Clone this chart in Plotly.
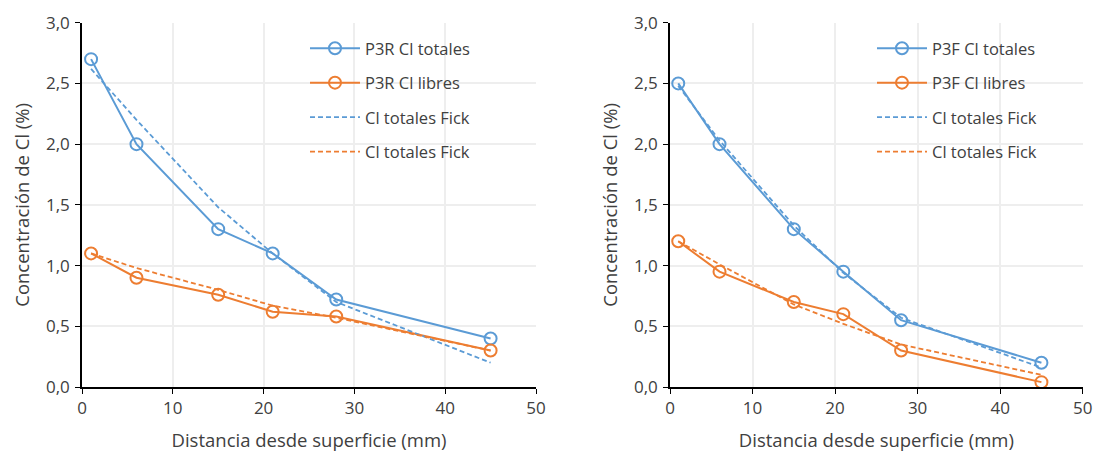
import plotly.graph_objects as go

# Distances from surface (mm)
dist = [1, 6, 15, 21, 28, 45]

# Specimen P3R
p3r_totales = [2.7, 2.0, 1.3, 1.1, 0.72, 0.4]
p3r_libres = [1.1, 0.9, 0.76, 0.62, 0.58, 0.3]
p3r_fick_totales = [2.62, 2.2, 1.48, 1.1, 0.7, 0.2]
p3r_fick_libres = [1.1, 0.98, 0.8, 0.67, 0.57, 0.3]

# Specimen P3F
p3f_totales = [2.5, 2.0, 1.3, 0.95, 0.55, 0.2]
p3f_libres = [1.2, 0.95, 0.7, 0.6, 0.3, 0.04]
p3f_fick_totales = [2.48, 2.03, 1.33, 0.94, 0.57, 0.16]
p3f_fick_libres = [1.2, 1.01, 0.68, 0.52, 0.35, 0.1]

x_ticks = [0, 10, 20, 30, 40, 50]
y_ticks = [0, 0.5, 1.0, 1.5, 2.0, 2.5, 3.0]

BLUE = "#5B9BD5"
ORANGE = "#ED7D31"
TEXT = "#404040"
GRID = "#EEEEEE"
FONT = "'Open Sans', Lato, sans-serif"

fig = go.Figure()


def add_panel(xa, ya, legend, name, tot, lib, ftot, flib):
    marker = dict(symbol="circle-open", size=12, line=dict(width=2))
    fig.add_trace(go.Scatter(x=dist, y=tot, mode="lines+markers", name=f"{name} Cl totales",
                             line=dict(color=BLUE, width=2), marker=dict(color=BLUE, **marker),
                             xaxis=xa, yaxis=ya, legend=legend, legendgroup=legend + "a"))
    fig.add_trace(go.Scatter(x=dist, y=lib, mode="lines+markers", name=f"{name} Cl libres",
                             line=dict(color=ORANGE, width=2), marker=dict(color=ORANGE, **marker),
                             xaxis=xa, yaxis=ya, legend=legend, legendgroup=legend + "b"))
    fig.add_trace(go.Scatter(x=dist, y=ftot, mode="lines", name="Cl totales Fick",
                             line=dict(color=BLUE, width=1.8, dash="5px,3px"),
                             xaxis=xa, yaxis=ya, legend=legend, legendgroup=legend + "c"))
    fig.add_trace(go.Scatter(x=dist, y=flib, mode="lines", name="Cl totales Fick",
                             line=dict(color=ORANGE, width=1.8, dash="5px,3px"),
                             xaxis=xa, yaxis=ya, legend=legend, legendgroup=legend + "d"))


add_panel("x", "y", "legend", "P3R", p3r_totales, p3r_libres, p3r_fick_totales, p3r_fick_libres)
add_panel("x2", "y2", "legend2", "P3F", p3f_totales, p3f_libres, p3f_fick_totales, p3f_fick_libres)

y_dom = [1 - 387 / 452, 1 - 22.7 / 452]

xaxis_common = dict(range=[0, 50], tickvals=x_ticks, showgrid=True, gridcolor=GRID, gridwidth=1.5,
                    showline=True, linecolor="black", linewidth=1.5, ticks="outside", ticklen=5,
                    tickcolor="black", zeroline=False, automargin=False,
                    tickfont=dict(size=17, color=TEXT, family=FONT),
                    title=dict(text="Distancia desde superficie (mm)", font=dict(size=18.5, color=TEXT, family=FONT),
                               standoff=17))
yaxis_common = dict(range=[0, 3], tickvals=y_ticks, tickformat=".1f", showgrid=True, gridcolor=GRID,
                    gridwidth=1.5, showline=True, linecolor="black", linewidth=1.5, ticks="outside",
                    ticklen=5, tickcolor="black", zeroline=False, automargin=False,
                    tickfont=dict(size=17, color=TEXT, family=FONT), ticklabelstandoff=2,
                    title=dict(text="Concentración de Cl (%)", font=dict(size=18.5, color=TEXT, family=FONT),
                               standoff=12))

legend_common = dict(font=dict(size=16.5, color=TEXT, family=FONT), bgcolor="rgba(0,0,0,0)",
                     tracegroupgap=10, traceorder="grouped", itemwidth=50,
                     xanchor="left", yanchor="top")

fig.update_layout(
    width=1094, height=452,
    margin=dict(l=0, r=0, t=0, b=0),
    paper_bgcolor="white", plot_bgcolor="white",
    separators=",.",
    font=dict(family=FONT, color=TEXT),
    xaxis=dict(domain=[82 / 1094, 536 / 1094], anchor="y", **xaxis_common),
    yaxis=dict(domain=y_dom, anchor="x", **yaxis_common),
    xaxis2=dict(domain=[670 / 1094, 1082.7 / 1094], anchor="y2", **xaxis_common),
    yaxis2=dict(domain=y_dom, anchor="x2", **yaxis_common),
    legend=dict(x=305 / 1094, y=1 - 31 / 452, **legend_common),
    legend2=dict(x=872 / 1094, y=1 - 31 / 452, **legend_common),
)

fig.write_html("out.html")
